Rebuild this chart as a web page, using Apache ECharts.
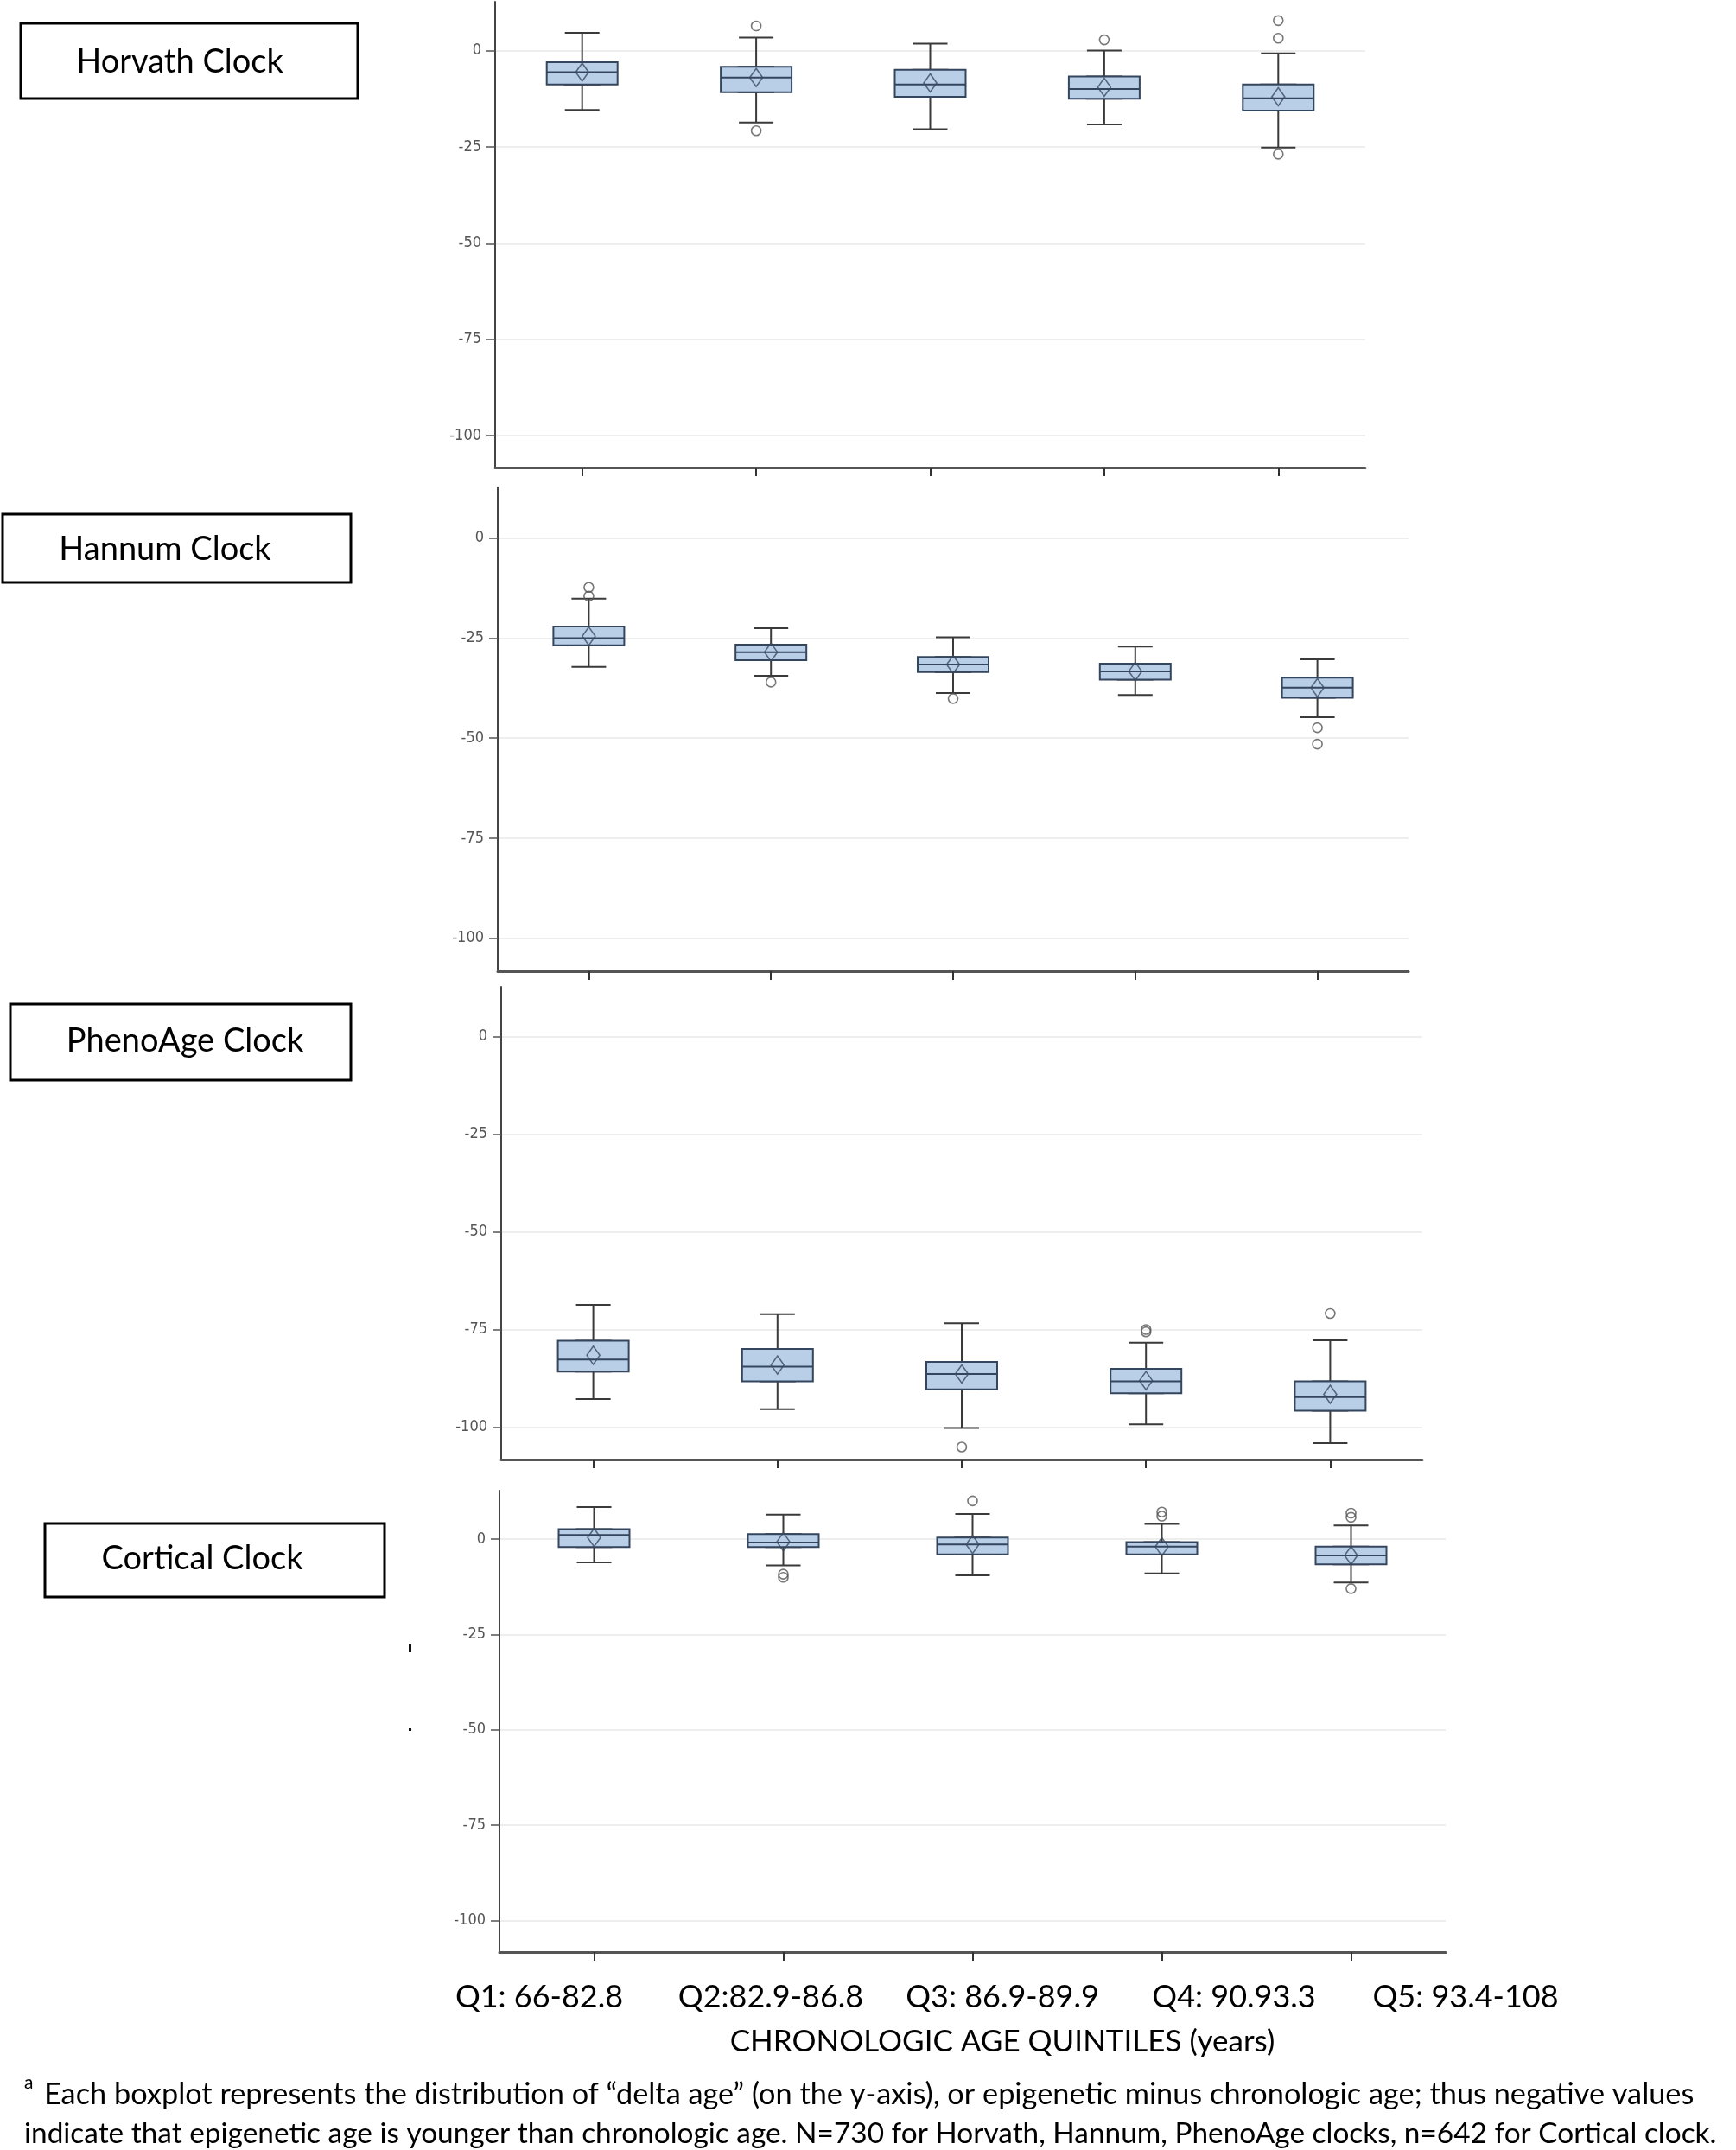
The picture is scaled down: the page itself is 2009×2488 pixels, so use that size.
<!DOCTYPE html>
<html><head><meta charset="utf-8">
<script src="https://cdn.jsdelivr.net/npm/echarts@6/dist/echarts.min.js"></script>
<style>html,body{margin:0;padding:0;background:#fff}#c{width:2009px;height:2488px}</style>
</head><body><div id="c"></div>
<script>
// ---------- data ----------
const categories = ['Q1: 66-82.8', 'Q2:82.9-86.8', 'Q3: 86.9-89.9', 'Q4: 90.93.3', 'Q5: 93.4-108'];
const yTickValues = [-100, -75, -50, -25, 0];
const clockNames = ['Horvath Clock', 'Hannum Clock', 'PhenoAge Clock', 'Cortical Clock'];
const xAxisTitle = 'CHRONOLOGIC AGE QUINTILES (years)';
const footnoteMark = 'a';
const footnoteLine1 = 'Each boxplot represents the distribution of \u201cdelta age\u201d (on the y-axis), or epigenetic minus chronologic age; thus negative values';
const footnoteLine2 = 'indicate that epigenetic age is younger than chronologic age. N=730 for Horvath, Hannum, PhenoAge clocks, n=642 for Cortical clock.';

const horvathLow    = [-15.4, -18.7, -20.4, -19.2, -25.2];
const horvathQ1     = [-8.8, -10.8, -12.0, -12.5, -15.6];
const horvathMedian = [-5.6, -7.0, -8.8, -10.0, -12.4];
const horvathQ3     = [-3.0, -4.2, -5.0, -6.7, -8.8];
const horvathHigh   = [4.6, 3.4, 1.8, 0.0, -0.7];
const horvathMean   = [-5.6, -7.0, -8.4, -9.5, -12.0];
const horvathOutliers = [[1, 6.4], [1, -20.8], [3, 2.8], [4, 7.8], [4, 3.2], [4, -26.9]];

const hannumLow    = [-32.2, -34.4, -38.7, -39.2, -44.8];
const hannumQ1     = [-26.8, -30.5, -33.5, -35.4, -39.9];
const hannumMedian = [-25.0, -28.5, -31.6, -33.3, -37.4];
const hannumQ3     = [-22.1, -26.6, -29.7, -31.4, -34.9];
const hannumHigh   = [-15.1, -22.5, -24.8, -27.1, -30.3];
const hannumMean   = [-24.5, -28.5, -31.6, -33.3, -37.4];
const hannumOutliers = [[0, -12.3], [0, -14.5], [1, -36.0], [2, -40.1], [4, -47.4], [4, -51.5]];

const phenoLow    = [-92.8, -95.4, -100.2, -99.3, -104.1];
const phenoQ1     = [-85.8, -88.3, -90.3, -91.3, -95.8];
const phenoMedian = [-82.7, -84.5, -86.4, -88.3, -92.3];
const phenoQ3     = [-77.9, -80.0, -83.3, -85.1, -88.3];
const phenoHigh   = [-68.7, -71.1, -73.4, -78.4, -77.8];
const phenoMean   = [-81.6, -84.1, -86.4, -88.1, -91.6];
const phenoOutliers = [[2, -105.1], [3, -75.0], [3, -75.6], [4, -70.9]];

const corticalLow    = [-6.1, -6.9, -9.5, -9.0, -11.4];
const corticalQ1     = [-2.1, -2.1, -4.0, -4.0, -6.6];
const corticalMedian = [1.1, -0.9, -1.4, -2.0, -4.3];
const corticalQ3     = [2.6, 1.3, 0.4, -0.8, -2.0];
const corticalHigh   = [8.4, 6.4, 6.6, 4.0, 3.6];
const corticalMean   = [0.4, -0.7, -1.4, -2.0, -4.3];
const corticalOutliers = [[1, -9.2], [1, -10.0], [2, 10.0], [3, 7.1], [3, 6.0], [4, 6.8], [4, 5.7], [4, -13.0]];

// ---------- assembly ----------
const clocks = [
  {low: horvathLow, q1: horvathQ1, med: horvathMedian, q3: horvathQ3, high: horvathHigh, mean: horvathMean, out: horvathOutliers},
  {low: hannumLow, q1: hannumQ1, med: hannumMedian, q3: hannumQ3, high: hannumHigh, mean: hannumMean, out: hannumOutliers},
  {low: phenoLow, q1: phenoQ1, med: phenoMedian, q3: phenoQ3, high: phenoHigh, mean: phenoMean, out: phenoOutliers},
  {low: corticalLow, q1: corticalQ1, med: corticalMedian, q3: corticalQ3, high: corticalHigh, mean: corticalMean, out: corticalOutliers}
];

// layout (pixels)
const gridLayout = [
  {left: 573, width: 1007, top: 2, height: 539},
  {left: 576, width: 1054, top: 564, height: 560},
  {left: 580, width: 1066, top: 1142, height: 547},
  {left: 578, width: 1095, top: 1725, height: 534}
];
const labelBoxes = [
  {x: 24, y: 27, w: 390, h: 87, tx: 208, ty: 72},
  {x: 3, y: 595, w: 403, h: 79, tx: 191, ty: 636},
  {x: 12, y: 1162, w: 394, h: 88, tx: 214, ty: 1205},
  {x: 52, y: 1763, w: 393, h: 85, tx: 234, ty: 1804}
];

const FONT = 'Lato, "Open Sans", sans-serif';
const grids = [], xAxes = [], yAxes = [], series = [];
const nPanels = gridLayout.length;
const labelAxisIndex = nPanels;          // 4
const hiddenAxisOffset = nPanels + 1;    // 5..8

gridLayout.forEach((g, i) => {
  grids.push(Object.assign({outerBoundsMode: 'none', containLabel: false}, g));
  xAxes.push({
    type: 'category', gridIndex: i, data: categories, boundaryGap: true,
    axisLine: {show: true, onZero: false, lineStyle: {color: '#555', width: 3}},
    axisTick: {show: true, alignWithLabel: true, length: 10, lineStyle: {color: '#333', width: 2}},
    axisLabel: {show: false}, splitLine: {show: false}
  });
  yAxes.push({
    type: 'value', gridIndex: i, min: -108.3, max: 12.7,
    axisLine: {show: true, onZero: false, lineStyle: {color: '#444', width: 2}},
    axisTick: {show: true, customValues: yTickValues, length: 10, lineStyle: {color: '#555', width: 1.5}},
    axisLabel: {customValues: yTickValues, fontSize: 18, fontFamily: '"Liberation Sans Narrow", "DejaVu Sans Condensed", sans-serif', color: '#555', margin: 16},
    splitLine: {show: true, lineStyle: {color: '#eeeeee', width: 2}}
  });
});

// shared category label axis under the panels
grids.push({left: 490, width: 1340, top: 2286, height: 1, outerBoundsMode: 'none', containLabel: false});
xAxes.push({
  type: 'category', gridIndex: labelAxisIndex, data: categories, boundaryGap: true,
  axisLine: {show: false}, axisTick: {show: false}, splitLine: {show: false},
  axisLabel: {show: true, interval: 0, fontSize: 36, fontFamily: FONT, color: '#000', margin: 6},
  name: xAxisTitle, nameLocation: 'middle', nameGap: 58,
  nameTextStyle: {fontSize: 35, fontFamily: FONT, color: '#000'}
});
yAxes.push({type: 'value', gridIndex: labelAxisIndex, show: false});

// hidden twin x axes so the box layer sits on the same centers as the whisker layer
gridLayout.forEach((g, i) => {
  xAxes.push({type: 'category', gridIndex: i, data: categories, boundaryGap: true, show: false});
});

clocks.forEach((c, i) => {
  series.push({
    type: 'boxplot', xAxisIndex: i, yAxisIndex: i, boxWidth: [40, 40], silent: true, z: 2,
    itemStyle: {color: '#ffffff', borderColor: '#3a3a3a', borderWidth: 2},
    data: categories.map((_, k) => [c.low[k], c.q1[k], c.med[k], c.q3[k], c.high[k]])
  });
  series.push({
    type: 'boxplot', xAxisIndex: hiddenAxisOffset + i, yAxisIndex: i, boxWidth: [82, 82], silent: true, z: 3,
    itemStyle: {color: '#b9cfe8', borderColor: '#34465e', borderWidth: 2},
    data: categories.map((_, k) => [c.q1[k], c.q1[k], c.med[k], c.q3[k], c.q3[k]])
  });
  series.push({
    type: 'scatter', xAxisIndex: i, yAxisIndex: i, symbol: 'diamond', symbolSize: [15, 21], silent: true, z: 4,
    itemStyle: {color: 'rgba(0,0,0,0)', borderColor: '#3b4a5e', borderWidth: 1.6},
    data: categories.map((_, k) => [k, c.mean[k]])
  });
  series.push({
    type: 'scatter', xAxisIndex: i, yAxisIndex: i, symbol: 'circle', symbolSize: 11, silent: true, z: 4,
    itemStyle: {color: 'rgba(255,255,255,0)', borderColor: '#555', borderWidth: 1.6},
    data: c.out
  });
});

const graphics = [];
labelBoxes.forEach((b, i) => {
  graphics.push({type: 'rect', shape: {x: b.x, y: b.y, width: b.w, height: b.h},
    style: {fill: '#fff', stroke: '#000', lineWidth: 3}, z: 10});
  graphics.push({type: 'text', x: b.tx, y: b.ty, z: 11,
    style: {text: clockNames[i], fontSize: 38, fontFamily: FONT, fill: '#000', textAlign: 'center', textVerticalAlign: 'middle'}});
});
graphics.push({type: 'rect', shape: {x: 473, y: 1902, width: 3, height: 10}, style: {fill: '#111'}});
graphics.push({type: 'rect', shape: {x: 473, y: 2000, width: 3, height: 3}, style: {fill: '#111'}});
graphics.push({type: 'text', x: 28, y: 2410, style: {text: footnoteMark, fontSize: 21, fontFamily: FONT, fill: '#000', textVerticalAlign: 'middle'}});
graphics.push({type: 'text', x: 51, y: 2424, style: {text: footnoteLine1, fontSize: 34.3, fontFamily: FONT, fill: '#000', textVerticalAlign: 'middle'}});
graphics.push({type: 'text', x: 28, y: 2469, style: {text: footnoteLine2, fontSize: 33.4, fontFamily: FONT, fill: '#000', textVerticalAlign: 'middle'}});

const chart = echarts.init(document.getElementById('c'), null, {renderer: 'canvas'});
chart.setOption({
  animation: false,
  backgroundColor: '#ffffff',
  grid: grids, xAxis: xAxes, yAxis: yAxes, series: series, graphic: graphics
});
</script></body></html>
